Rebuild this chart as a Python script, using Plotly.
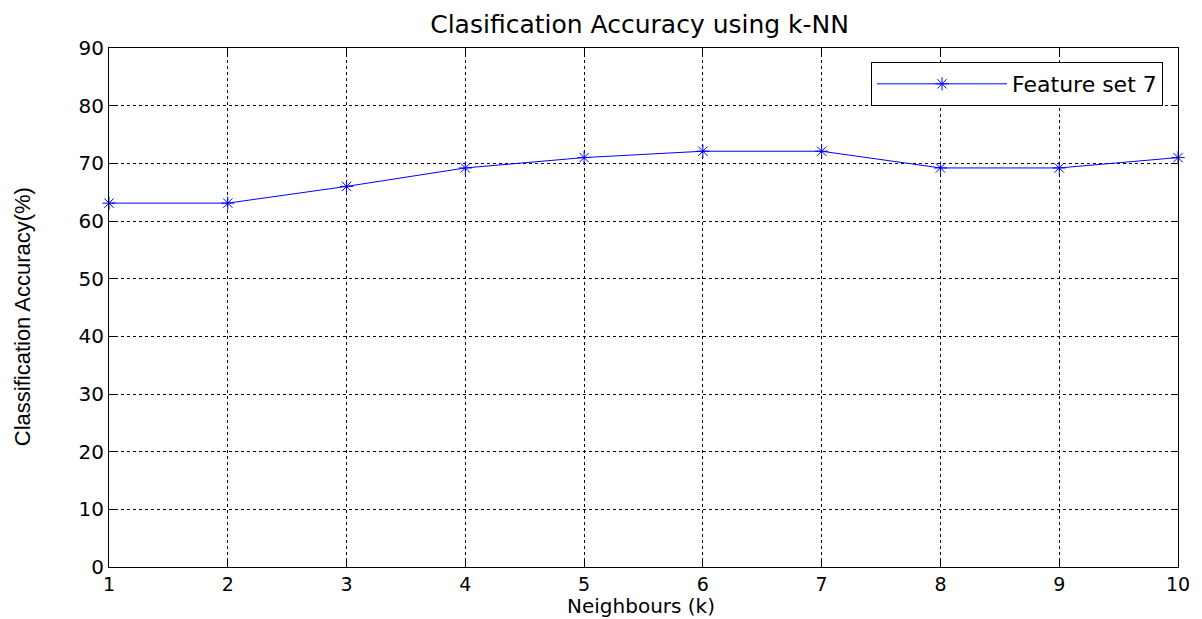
import plotly.graph_objects as go

neighbours = [1, 2, 3, 4, 5, 6, 7, 8, 9, 10]
accuracy = [63.1, 63.1, 66.0, 69.2, 71.0, 72.1, 72.1, 69.2, 69.2, 71.0]
series_name = "Feature set 7"
x_ticks = [1, 2, 3, 4, 5, 6, 7, 8, 9, 10]
y_ticks = [0, 10, 20, 30, 40, 50, 60, 70, 80, 90]

FONT = "DejaVu Sans, Liberation Sans, Arial"

fig = go.Figure()
fig.add_trace(go.Scatter(
    x=neighbours, y=accuracy, name=series_name, mode="lines+markers",
    line=dict(color="#0000ff", width=1),
    marker=dict(symbol="asterisk-open", size=11, line=dict(color="#0000ff", width=1)),
    cliponaxis=False,
))

axis_common = dict(
    showline=True, linecolor="black", linewidth=1, mirror="ticks",
    ticks="inside", ticklen=6, tickcolor="black",
    showgrid=True, gridcolor="black", griddash="dot", gridwidth=1,
    zeroline=False, tickfont=dict(family=FONT, size=20, color="black"),
)

# page body has an 8px margin, so the figure is sized/offset accordingly
fig.update_layout(
    width=1194, height=611,
    paper_bgcolor="white", plot_bgcolor="white",
    margin=dict(l=101, r=19, t=40, b=52),
    title=dict(text="Clasification Accuracy using k-NN", x=0.529, xanchor="center",
               y=0.974, yanchor="middle",
               font=dict(family=FONT, size=25, color="black")),
    xaxis=dict(range=[1, 10], tickvals=x_ticks, ticklabelstandoff=0,
               **{**axis_common, "tickfont": dict(family=FONT, size=19, color="black")}),
    yaxis=dict(range=[0, 90], tickvals=y_ticks, **axis_common),
    showlegend=True,
    legend=dict(x=0.986, y=0.973, xanchor="right", yanchor="top",
                bgcolor="white", bordercolor="black", borderwidth=1,
                font=dict(family=FONT, size=22, color="black"),
                itemwidth=130, tracegroupgap=0),
    annotations=[
        dict(text="Classification Accuracy(%)", textangle=-90,
             x=-0.081, xref="paper", xanchor="center", y=0.482, yref="paper", yanchor="middle",
             showarrow=False,
             font=dict(family="Liberation Sans, Arial", size=22, color="black")),
        dict(text="Neighbours (k)",
             x=0.498, xref="paper", xanchor="center", y=-0.0501, yref="paper", yanchor="top",
             showarrow=False, borderpad=0,
             font=dict(family=FONT, size=20, color="black")),
    ],
)

fig.write_html("out.html")
